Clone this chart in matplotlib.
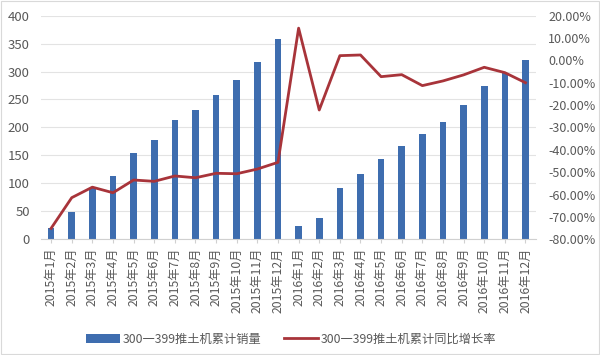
import matplotlib
matplotlib.use("Agg")
import matplotlib.pyplot as plt
from matplotlib.ticker import FuncFormatter, MultipleLocator

plt.rcParams['font.family'] = ['Noto Sans CJK SC', 'DejaVu Sans']

months = [f"2015年{m}月" for m in range(1, 13)] + [f"2016年{m}月" for m in range(1, 13)]
sales = [20, 49, 91, 114, 155, 177, 213, 231, 258, 284, 317, 359,
         23, 38, 91, 116, 143, 167, 189, 210, 241, 275, 298, 321]
growth = [-75.1, -61.4, -56.7, -59.2, -53.5, -54.1, -51.7, -52.5, -50.5, -50.7, -48.6, -45.6,
          14.4, -22.2, 2.1, 2.4, -7.3, -6.4, -11.3, -9.2, -6.5, -3.1, -5.5, -10.0]
bar_label = "300一399推土机累计销量"
line_label = "300一399推土机累计同比增长率"

fig = plt.figure(figsize=(6, 3.55), dpi=100)
ax = fig.add_axes([0.068, 0.326, 0.825, 0.630])
ax2 = ax.twinx()

x = list(range(len(months)))
bar_color = "#3E6DAF"
line_color = "#A8343A"
tick_color = "#595959"

ax.bar(x, sales, width=0.32, color=bar_color, label=bar_label, zorder=2)
ax2.plot(x, growth, color=line_color, lw=2, label=line_label, zorder=3)

ax.set_xlim(-0.5, len(months) - 0.5)
ax.set_ylim(0, 400)
ax.yaxis.set_major_locator(MultipleLocator(50))
ax2.set_ylim(-80, 20)
ax2.yaxis.set_major_locator(MultipleLocator(10))
ax2.yaxis.set_major_formatter(FuncFormatter(lambda v, p: f"{v:.2f}%"))

ax.grid(axis='y', color="#E3E3E3", lw=0.8, zorder=0)
ax.set_axisbelow(True)
for a in (ax, ax2):
    for s in a.spines.values():
        s.set_visible(False)
ax.spines['bottom'].set_visible(True)
ax.spines['bottom'].set_color("#D0D0D0")

ax.set_xticks(x)
ax.set_xticklabels(months, rotation=90, fontsize=8.8, color=tick_color)
ax.tick_params(axis='x', length=3, color="#D0D0D0", pad=3)
ax.tick_params(axis='y', length=0, labelsize=9.5, labelcolor=tick_color, pad=8)
ax2.tick_params(axis='y', length=0, labelsize=9, labelcolor=tick_color, pad=9)

h1, l1 = ax.get_legend_handles_labels()
h2, l2 = ax2.get_legend_handles_labels()
fig.legend(h1 + h2, l1 + l2, loc='center', bbox_to_anchor=(0.485, 0.045), ncol=2,
           frameon=False, fontsize=8.8, labelcolor=tick_color, handlelength=2.8,
           handleheight=0.8, columnspacing=1.8, handletextpad=0.2)

fig.patches.append(plt.Rectangle((0.002, 0.003), 0.996, 0.994, transform=fig.transFigure,
                                 fill=False, edgecolor="#D9D9D9", lw=0.8))

fig.savefig("out.png", dpi=100)
